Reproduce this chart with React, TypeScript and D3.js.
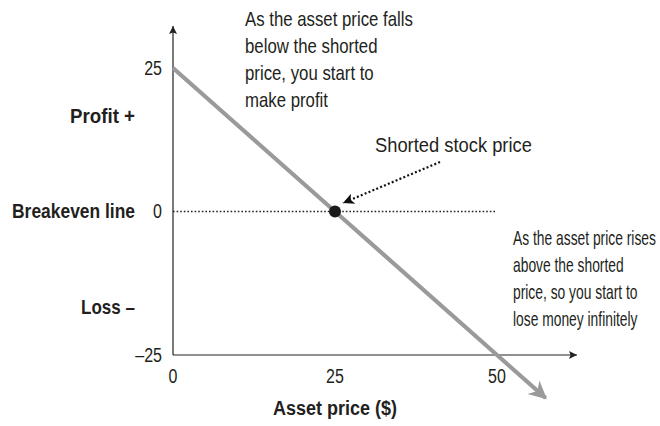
import { useEffect, useRef } from "react"
import * as d3 from "d3"

// payoff of a short position
const assetPrice = [0, 25, 50, 57.5]
const payoff = [25, 0, -25, -32.5]
const shortedPrice = 25
const xTicks = [0, 25, 50]
const yTicks = [25, 0, -25]
const yTickLabels = ["25", "0", "\u201325"]
const sideLabels = [
    { value: 16.7, text: "Profit +", width: 65 },
    { value: 0, text: "Breakeven line", width: 123 },
    { value: -16.7, text: "Loss \u2013", width: 54 },
]
const noteFalls = ["As the asset price falls", "below the shorted", "price, you start to", "make profit"]
const noteRises = ["As the asset price rises", "above the shorted", "price, so you start to", "lose money infinitely"]

const font = "'Liberation Sans', Arial, sans-serif"
const squeeze = 0.8

type LabelOpts = {
    x: number
    y: number
    anchor?: string
    width?: number
    size?: number
    weight?: string
    lineHeight?: number
}

// condensed-looking text: draw with a regular face, then squeeze horizontally
function addLabel(parent: d3.Selection<SVGGElement, unknown, null, undefined>, lines: string[], o: LabelOpts) {
    const g = parent.append("g")
    g.selectAll("text").data(lines).join("text")
        .attr("x", 0)
        .attr("y", (d, i) => o.y + i * (o.lineHeight || 27))
        .attr("text-anchor", o.anchor || "start")
        .attr("font-size", o.size || 20)
        .attr("font-weight", o.weight || "normal")
        .text(d => d)
    const w = (g.node() as SVGGElement).getBBox().width
    const sx = o.width ? o.width / w : squeeze
    g.attr("transform", `translate(${o.x},0) scale(${sx},1)`)
    return g
}

export default function App() {
    const ref = useRef<SVGSVGElement>(null)

    useEffect(() => {
        const width = 660
        const height = 426
        const svg = d3.select(ref.current)
        svg.selectAll("*").remove()
        svg.attr("width", width).attr("height", height).attr("viewBox", `0 0 ${width} ${height}`)

        const x = d3.scaleLinear().domain([0, 50]).range([173, 497])
        const y = d3.scaleLinear().domain([-25, 25]).range([355, 68])

        const defs = svg.append("defs")
        defs.append("marker")
            .attr("id", "axisHead")
            .attr("viewBox", "0 0 10 10")
            .attr("refX", 10).attr("refY", 5)
            .attr("markerWidth", 10).attr("markerHeight", 8)
            .attr("markerUnits", "userSpaceOnUse")
            .attr("orient", "auto")
            .append("path").attr("d", "M0,0 L10,5 L0,10 L2,5 Z").attr("fill", "#222")
        defs.append("marker")
            .attr("id", "grayHead")
            .attr("viewBox", "0 0 10 10")
            .attr("refX", 9).attr("refY", 5)
            .attr("markerWidth", 22).attr("markerHeight", 18)
            .attr("markerUnits", "userSpaceOnUse")
            .attr("orient", "auto")
            .append("path").attr("d", "M0,0 L10,5 L0,10 L3,5 Z").attr("fill", "#9a9a9b")
        defs.append("marker")
            .attr("id", "dotHead")
            .attr("viewBox", "0 0 10 10")
            .attr("refX", 10).attr("refY", 5)
            .attr("markerWidth", 14).attr("markerHeight", 11)
            .attr("markerUnits", "userSpaceOnUse")
            .attr("orient", "auto")
            .append("path").attr("d", "M0,0 L10,5 L0,10 L2.5,5 Z").attr("fill", "#111")

        // axes
        svg.append("path")
            .attr("d", `M${x(0)},${y(-25)} V${y(25) - 42}`)
            .attr("stroke", "#222").attr("stroke-width", 1.2).attr("fill", "none")
            .attr("marker-end", "url(#axisHead)")
        svg.append("path")
            .attr("d", `M${x(0)},${y(-25)} H${x(50) + 80}`)
            .attr("stroke", "#222").attr("stroke-width", 1.2).attr("fill", "none")
            .attr("marker-end", "url(#axisHead)")

        // breakeven dotted line
        svg.append("line")
            .attr("x1", x(0)).attr("x2", x(50))
            .attr("y1", y(0)).attr("y2", y(0))
            .attr("stroke", "#222").attr("stroke-width", 1.3)
            .attr("stroke-dasharray", "1.6 2")

        // payoff line
        const line = d3.line<number>().x((d, i) => x(assetPrice[i])).y(d => y(d))
        svg.append("path")
            .attr("d", line(payoff))
            .attr("stroke", "#9a9a9b").attr("stroke-width", 4.2).attr("fill", "none")
            .attr("marker-end", "url(#grayHead)")

        // shorted price point
        svg.append("circle")
            .attr("cx", x(shortedPrice)).attr("cy", y(0)).attr("r", 6)
            .attr("fill", "#1a1a1a")

        // pointer arrow
        svg.append("line")
            .attr("x1", 440).attr("y1", 162)
            .attr("x2", 343).attr("y2", 203)
            .attr("stroke", "#111").attr("stroke-width", 2.2)
            .attr("stroke-dasharray", "2 2.2")
            .attr("marker-end", "url(#dotHead)")

        const text = svg.append("g").attr("font-family", font).attr("fill", "#231f20")

        yTicks.forEach((v, i) => {
            addLabel(text, [yTickLabels[i]], { x: 162, y: y(v) + 7, anchor: "end" })
        })
        xTicks.forEach(v => {
            addLabel(text, [String(v)], { x: x(v), y: 383, anchor: "middle" })
        })
        sideLabels.forEach(d => {
            addLabel(text, [d.text], { x: 135, y: y(d.value) + 7, anchor: "end", weight: "bold", width: d.width })
        })

        addLabel(text, ["Asset price ($)"], { x: 335, y: 415, anchor: "middle", weight: "bold", width: 124 })
        addLabel(text, ["Shorted stock price"], { x: 375, y: 152, width: 157 })
        addLabel(text, noteFalls, { x: 245, y: 26, width: 168 })
        addLabel(text, noteRises, { x: 513, y: 245, width: 143 })
    }, [])

    return (
        <svg ref={ref} style={{ position: "absolute", left: 0, top: 0, background: "#fff" }}></svg>
    )
}
